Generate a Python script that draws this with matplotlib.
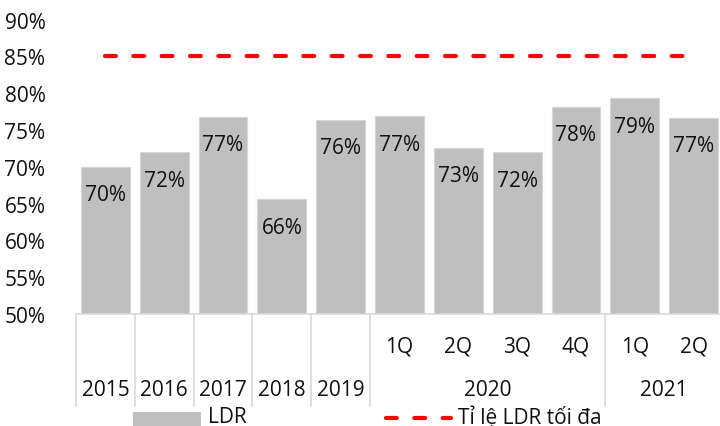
import matplotlib
matplotlib.use("Agg")
import matplotlib.pyplot as plt
from matplotlib.patches import Rectangle
from matplotlib.lines import Line2D
import numpy as np

plt.rcParams['font.family'] = ['Open Sans', 'DejaVu Sans']

# Data
periods = ["2015", "2016", "2017", "2018", "2019",
           "1Q", "2Q", "3Q", "4Q", "1Q", "2Q"]
years = ["2015", "2016", "2017", "2018", "2019", "2020", "2021"]
year_spans = [(0, 0), (1, 1), (2, 2), (3, 3), (4, 4), (5, 8), (9, 10)]
ldr = [70.0, 72.0, 76.8, 65.6, 76.4, 76.9, 72.6, 72.0, 78.2, 79.3, 76.7]
ldr_cap = [85.0] * len(ldr)
yticks = [50, 55, 60, 65, 70, 75, 80, 85, 90]

W, H = 720, 427
fig = plt.figure(figsize=(W / 100, H / 100), dpi=100)
ax = fig.add_axes([76 / W, (H - 315) / H, (723 - 76) / W, (315 - 20.7) / H])

x = np.arange(len(ldr))
bar_color = "#bfbfbf"
bars = ax.bar(x, [v - 50 for v in ldr], bottom=50, width=0.83,
              color=bar_color, edgecolor="#d6d6d6", linewidth=0.8, zorder=2)

for xi, v in zip(x, ldr):
    ax.annotate(f"{v:.0f}%", (xi, v), xytext=(0, -28), textcoords="offset pixels",
                ha="center", va="center", fontsize=15, color="#111111", zorder=4)

ax.plot(x, ldr_cap, color="#ff0000", lw=3.0, dashes=(2.6, 4.2),
        dash_capstyle="round", zorder=3)

ax.set_xlim(-0.5, len(ldr) - 0.5)
ax.set_ylim(50, 90)
ax.set_yticks(yticks)
ax.set_yticklabels([f"{t}%" for t in yticks], fontsize=15, color="#111111")
ax.tick_params(axis="y", length=0, pad=22)
ax.set_xticks([])
for s in ["top", "right", "left"]:
    ax.spines[s].set_visible(False)
ax.spines["bottom"].set_color("#d9d9d9")
ax.spines["bottom"].set_linewidth(1.2)

# Multi-level category axis
trans = ax.get_xaxis_transform()
ax_h_px = 315 - 20.7
def ypx(py):
    # figure pixel row (from top) -> axes fraction
    return (315 - py) / ax_h_px

for xi, lab in enumerate(periods):
    if xi >= 5:
        ax.text(xi, ypx(347), lab, transform=trans, ha="center", va="center",
                fontsize=15, color="#111111", clip_on=False)
for name, (a, b) in zip(years, year_spans):
    ax.text((a + b) / 2, ypx(391), name, transform=trans, ha="center", va="center",
            fontsize=15, color="#111111", clip_on=False)

bounds = sorted({a - 0.5 for a, b in year_spans} | {b + 0.5 for a, b in year_spans})
for bx in bounds:
    ax.plot([bx, bx], [ypx(315), ypx(407)], transform=trans, color="#d9d9d9",
            lw=1.2, clip_on=False)

# Legend
fig.patches.append(Rectangle((133 / W, 0), (201 - 133) / W, (427 - 413) / H,
                             transform=fig.transFigure, facecolor=bar_color,
                             edgecolor="none"))
fig.text(208 / W, (H - 418) / H, "LDR", fontsize=15, color="#111111",
         ha="left", va="center")
fig.lines.append(Line2D([386 / W, 451 / W], [(H - 419) / H] * 2,
                        transform=fig.transFigure, color="#ff0000", lw=3.0,
                        dashes=(2.6, 4.2), dash_capstyle="round"))
fig.text(458 / W, (H - 418) / H, "Tỉ lệ LDR tối đa", fontsize=15,
         color="#111111", ha="left", va="center")

# Chart heading (sits at the very top edge)
fig.text(343 / W, (H + 6.0) / H, "Tỉ lệ LDR của ngân hàng (%)", fontsize=15,
         fontweight="bold", color="#111111", ha="right", va="baseline")

fig.savefig("out.png", dpi=100)
